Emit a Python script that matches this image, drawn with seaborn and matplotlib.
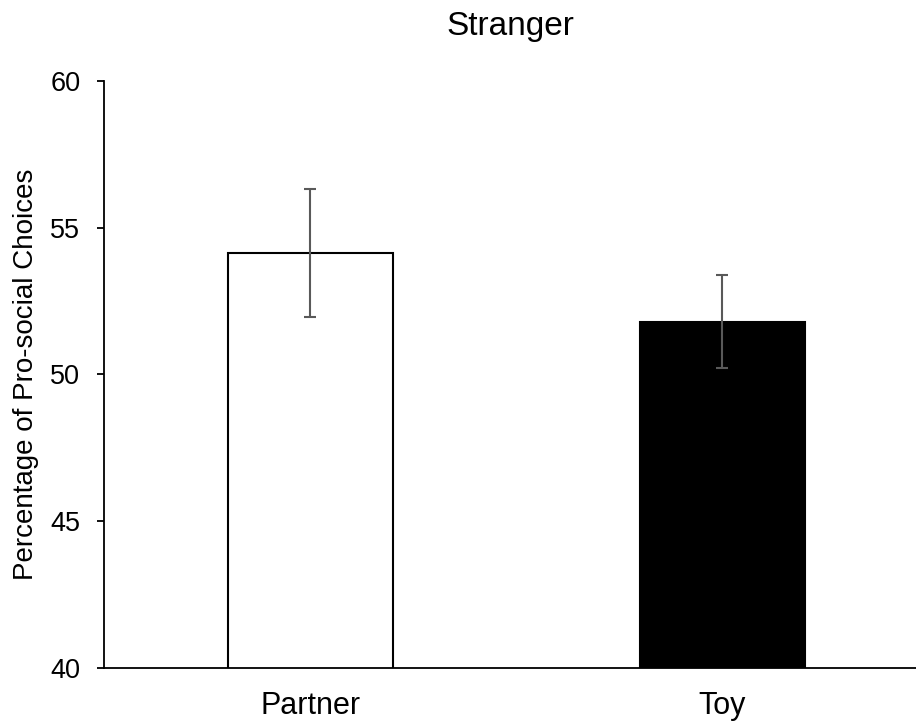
import pandas as pd
import matplotlib
matplotlib.use('Agg')
import matplotlib.pyplot as plt
import seaborn as sns

# values
conditions = ['Partner', 'Toy']
means = [54.13, 51.80]
sems = [2.19, 1.57]

df = pd.DataFrame({'Condition': conditions, 'Percent': means, 'SEM': sems})

sns.set_style('white')
plt.rcParams['font.family'] = ['Liberation Sans', 'DejaVu Sans']
plt.rcParams['text.color'] = 'black'
plt.rcParams['axes.labelcolor'] = 'black'
plt.rcParams['xtick.color'] = 'black'
plt.rcParams['ytick.color'] = 'black'

fig = plt.figure(figsize=(9.16, 7.21), dpi=100)
ax = fig.add_axes([0.1135, 0.0735, 0.8865, 0.8145])

sns.barplot(data=df, x='Condition', y='Percent', hue='Condition',
            palette=['white', 'black'], edgecolor='black', linewidth=1.5,
            width=0.4, errorbar=None, legend=False, ax=ax)

ax.errorbar(x=range(len(conditions)), y=df['Percent'], yerr=df['SEM'],
            fmt='none', ecolor='#595959', elinewidth=1.5, capsize=4.5, capthick=1.5)

ax.set_ylim(40, 60)
ax.set_yticks([40, 45, 50, 55, 60])
ax.set_xlim(-0.5, 1.47)
ax.set_xlabel('')
ax.set_ylabel('Percentage of Pro-social Choices', fontsize=20, labelpad=8)
ax.set_title('Stranger', fontsize=24, pad=33)

for side in ['top', 'right']:
    ax.spines[side].set_visible(False)
for side in ['left', 'bottom']:
    ax.spines[side].set_color('black')
    ax.spines[side].set_linewidth(1.3)

ax.tick_params(axis='y', which='both', left=True, length=5, width=1.3,
               labelsize=19.5, direction='out', pad=12, color='black')
ax.tick_params(axis='x', bottom=False, labelsize=22, pad=13)

fig.savefig('out.png', dpi=100)
